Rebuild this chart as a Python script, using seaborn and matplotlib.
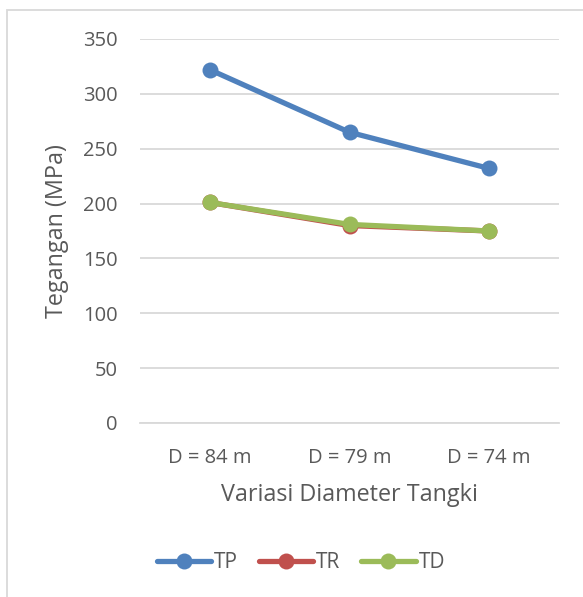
import matplotlib
matplotlib.use("Agg")
import matplotlib.pyplot as plt
from matplotlib.patches import Rectangle
import seaborn as sns
import pandas as pd

# Tank diameter variants and stress results (MPa)
categories = ["D = 84 m", "D = 79 m", "D = 74 m"]
tp = [322, 265, 232]
tr = [201, 180, 175]
td = [201, 181, 175]
series_names = ["TP", "TR", "TD"]
y_ticks = [0, 50, 100, 150, 200, 250, 300, 350]

rows = []
for name, vals in zip(series_names, [tp, tr, td]):
    for i, (cat, v) in enumerate(zip(categories, vals)):
        rows.append({"pos": i, "Diameter": cat, "Tegangan": v, "Seri": name})
df = pd.DataFrame(rows)

sns.set_theme(style="white")
plt.rcParams["font.family"] = ["Open Sans", "DejaVu Sans"]

text_color = "#595959"
grid_color = "#D9D9D9"
palette = {"TP": "#4F81BD", "TR": "#C0504D", "TD": "#9BBB59"}

W, H = 583, 597
fig = plt.figure(figsize=(W / 100, H / 100), dpi=100)
ax = fig.add_axes([140 / W, 1 - 423 / H, (559 - 140) / W, (423 - 39) / H])

sns.lineplot(data=df, x="pos", y="Tegangan", hue="Seri", hue_order=series_names,
             palette=palette, marker="o", markersize=11.5, markeredgewidth=0,
             linewidth=3.8, sort=False, ax=ax, legend=False)

ax.set_xlim(-0.5, 2.5)
ax.set_ylim(0, 350)
ax.set_yticks(y_ticks)
ax.set_yticklabels([str(t) for t in y_ticks])
ax.set_xticks(range(len(categories)))
ax.set_xticklabels(categories)
ax.grid(axis="y", color=grid_color, linewidth=1.3)
ax.set_axisbelow(True)
for s in ["top", "right", "left"]:
    ax.spines[s].set_visible(False)
ax.spines["bottom"].set_color(grid_color)
ax.spines["bottom"].set_linewidth(1.3)
ax.tick_params(axis="y", length=0, pad=16, labelsize=14.5, labelcolor=text_color)
ax.tick_params(axis="x", length=0, pad=18, labelsize=14.5, labelcolor=text_color)
ax.set_xlabel("Variasi Diameter Tangki", fontsize=16.8, color=text_color, labelpad=11)
ax.set_ylabel("Tegangan (MPa)", fontsize=16.8, color=text_color)
ax.yaxis.set_label_coords((69 - 140) / 419, 0.5)

# Legend
handles = [plt.Line2D([], [], color=palette[n], marker="o", markersize=11.5,
                      markeredgewidth=0, linewidth=3.8) for n in series_names]
fig.legend(handles, series_names, loc="center", bbox_to_anchor=(301 / W, 1 - 563 / H),
           ncol=3, frameon=False, fontsize=15, labelcolor=text_color,
           handlelength=2.6, handletextpad=0.15, columnspacing=1.0)

# Chart area border
fig.patches.append(Rectangle((7 / W, -0.1), 1.2, 1 - 10 / H + 0.1, transform=fig.transFigure,
                             fill=False, edgecolor=grid_color, linewidth=1.3, clip_on=False))

fig.savefig("out.png", dpi=100)
